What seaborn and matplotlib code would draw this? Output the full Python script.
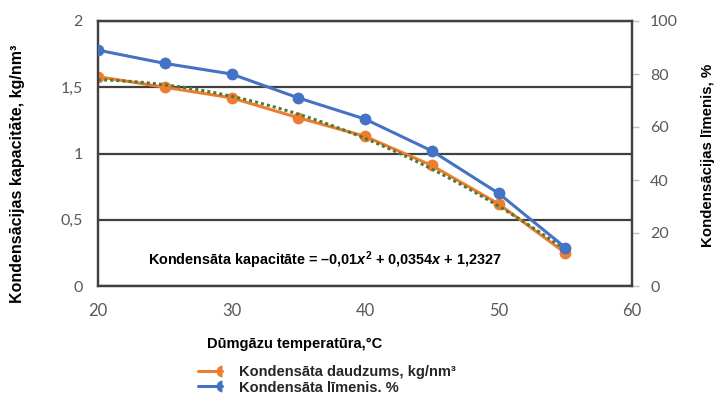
import numpy as np
import pandas as pd
import matplotlib
matplotlib.use("Agg")
import matplotlib.pyplot as plt
import seaborn as sns
from matplotlib.lines import Line2D
from matplotlib.markers import MarkerStyle
from matplotlib.legend_handler import HandlerBase

# Flue-gas temperature, °C
temperature = [20, 25, 30, 35, 40, 45, 50, 55]
# Condensate amount, kg/nm³ (left axis)
capacity = [1.58, 1.50, 1.42, 1.27, 1.13, 0.91, 0.62, 0.25]
# Condensation level, % (right axis)
level = [89, 84, 80, 71, 63, 51, 35, 14.5]

x_ticks = [20, 30, 40, 50, 60]
left_ticks = [0, 0.5, 1, 1.5, 2]
left_tick_labels = ["0", "0,5", "1", "1,5", "2"]
right_ticks = [0, 20, 40, 60, 80, 100]

series_labels = ["Kondensāta daudzums, kg/nm³", "Kondensāta līmenis. %"]

ORANGE = "#ED7D31"
BLUE = "#4472C4"
GREEN = "#4F7B32"
DARK = "#404040"
TICK_GREY = "#595959"

sns.set_theme(style="white")
plt.rcParams["font.family"] = ["Liberation Sans", "DejaVu Sans"]
plt.rcParams["mathtext.fontset"] = "custom"
plt.rcParams["mathtext.rm"] = "Liberation Sans:bold"
plt.rcParams["mathtext.bf"] = "Liberation Sans:bold"
plt.rcParams["mathtext.it"] = "Liberation Sans:italic:bold"

df = pd.DataFrame({"temp": temperature, "capacity": capacity, "level": level})

fig = plt.figure(figsize=(7.18, 3.95), dpi=100)
ax = fig.add_axes([98 / 718, 1 - 286 / 395, 534 / 718, 265 / 395])
ax2 = ax.twinx()

sns.lineplot(data=df, x="temp", y="capacity", ax=ax, color=ORANGE,
             linewidth=2.2, marker="o", markersize=8.5, markeredgewidth=0,
             legend=False, zorder=3)

# Second-order polynomial trend of the condensate amount
coeffs = np.polyfit(temperature, capacity, 2)
xs = np.linspace(min(temperature), max(temperature), 200)
ax.plot(xs, np.polyval(coeffs, xs), color=GREEN, linewidth=2.2,
        linestyle=(0, (1, 1)), zorder=4)

sns.lineplot(data=df, x="temp", y="level", ax=ax2, color=BLUE,
             linewidth=2.2, marker="o", markersize=8.5, markeredgewidth=0,
             legend=False, zorder=3)

ax.set_xlim(20, 60)
ax.set_ylim(0, 2)
ax2.set_ylim(0, 100)

ax.set_xticks(x_ticks)
ax.set_xticklabels([str(v) for v in x_ticks])
ax.set_yticks(left_ticks)
ax.set_yticklabels(left_tick_labels)
ax2.set_yticks(right_ticks)
ax2.set_yticklabels([str(v) for v in right_ticks])

ax.yaxis.grid(True, color=DARK, linewidth=1.6)
ax.xaxis.grid(False)
ax2.grid(False)
ax.set_axisbelow(True)

for a in (ax, ax2):
    for s in a.spines.values():
        s.set_visible(True)
        s.set_color(DARK)
        s.set_linewidth(1.6)

ax.tick_params(axis="x", length=0, pad=12, labelsize=12, labelcolor=TICK_GREY)
ax.tick_params(axis="y", length=0, pad=11, labelsize=11.5, labelcolor=TICK_GREY)
ax2.tick_params(axis="y", length=5, width=1, color="#BFBFBF", pad=8,
                labelsize=11.5, labelcolor=TICK_GREY, right=True)
for lbl in ax.get_xticklabels() + ax.get_yticklabels() + ax2.get_yticklabels():
    lbl.set_fontfamily(["Lato", "DejaVu Sans"])

ax.set_xlabel("Dūmgāzu temperatūra,°C", fontsize=10.5, fontweight="bold",
              color="black", ha="center", va="center")
ax.xaxis.set_label_coords((295 - 98) / 534, (286 - 344) / 265)
ax.set_ylabel("Kondensācijas kapacitāte, kg/nm³", fontsize=11.5,
              fontweight="bold", color="black", va="center")
ax.yaxis.set_label_coords((18 - 98) / 534, (286 - 174) / 265)
ax2.set_ylabel("Kondensācijas līmenis, %", fontsize=10.8, fontweight="bold",
               color="black", va="center", rotation=90)
ax2.yaxis.set_label_coords((708 - 98) / 534, (286 - 155) / 265)

ax.text(0.425, 0.098,
        "Kondensāta kapacitāte = –0,01$x^2$ + 0,0354$x$ + 1,2327",
        transform=ax.transAxes, ha="center", va="center",
        fontsize=10.4, fontweight="bold", color="black")


class EndCapHandler(HandlerBase):
    """Legend key: a line with a half marker at its right end."""

    def create_artists(self, legend, orig_handle, xdescent, ydescent,
                       width, height, fontsize, trans):
        color = orig_handle.get_color()
        y = height / 2 - ydescent
        line = Line2D([-xdescent, width - xdescent], [y, y],
                      color=color, linewidth=2.2)
        cap = Line2D([width - xdescent], [y], color=color,
                     marker=MarkerStyle("o", fillstyle="left"),
                     markersize=8.5, markeredgewidth=0,
                     markerfacecoloralt="none", linestyle="none")
        line.set_transform(trans)
        cap.set_transform(trans)
        return [line, cap]


handles = [Line2D([], [], color=ORANGE), Line2D([], [], color=BLUE)]
fig.legend(handles, series_labels, loc="center left",
           bbox_to_anchor=(198 / 718, 1 - 380 / 395),
           frameon=False, handlelength=1.65, handletextpad=1.15,
           labelspacing=0.08, borderpad=0, borderaxespad=0,
           prop={"weight": "bold", "size": 10.5},
           handler_map={Line2D: EndCapHandler()})

fig.savefig("out.png", dpi=100)
